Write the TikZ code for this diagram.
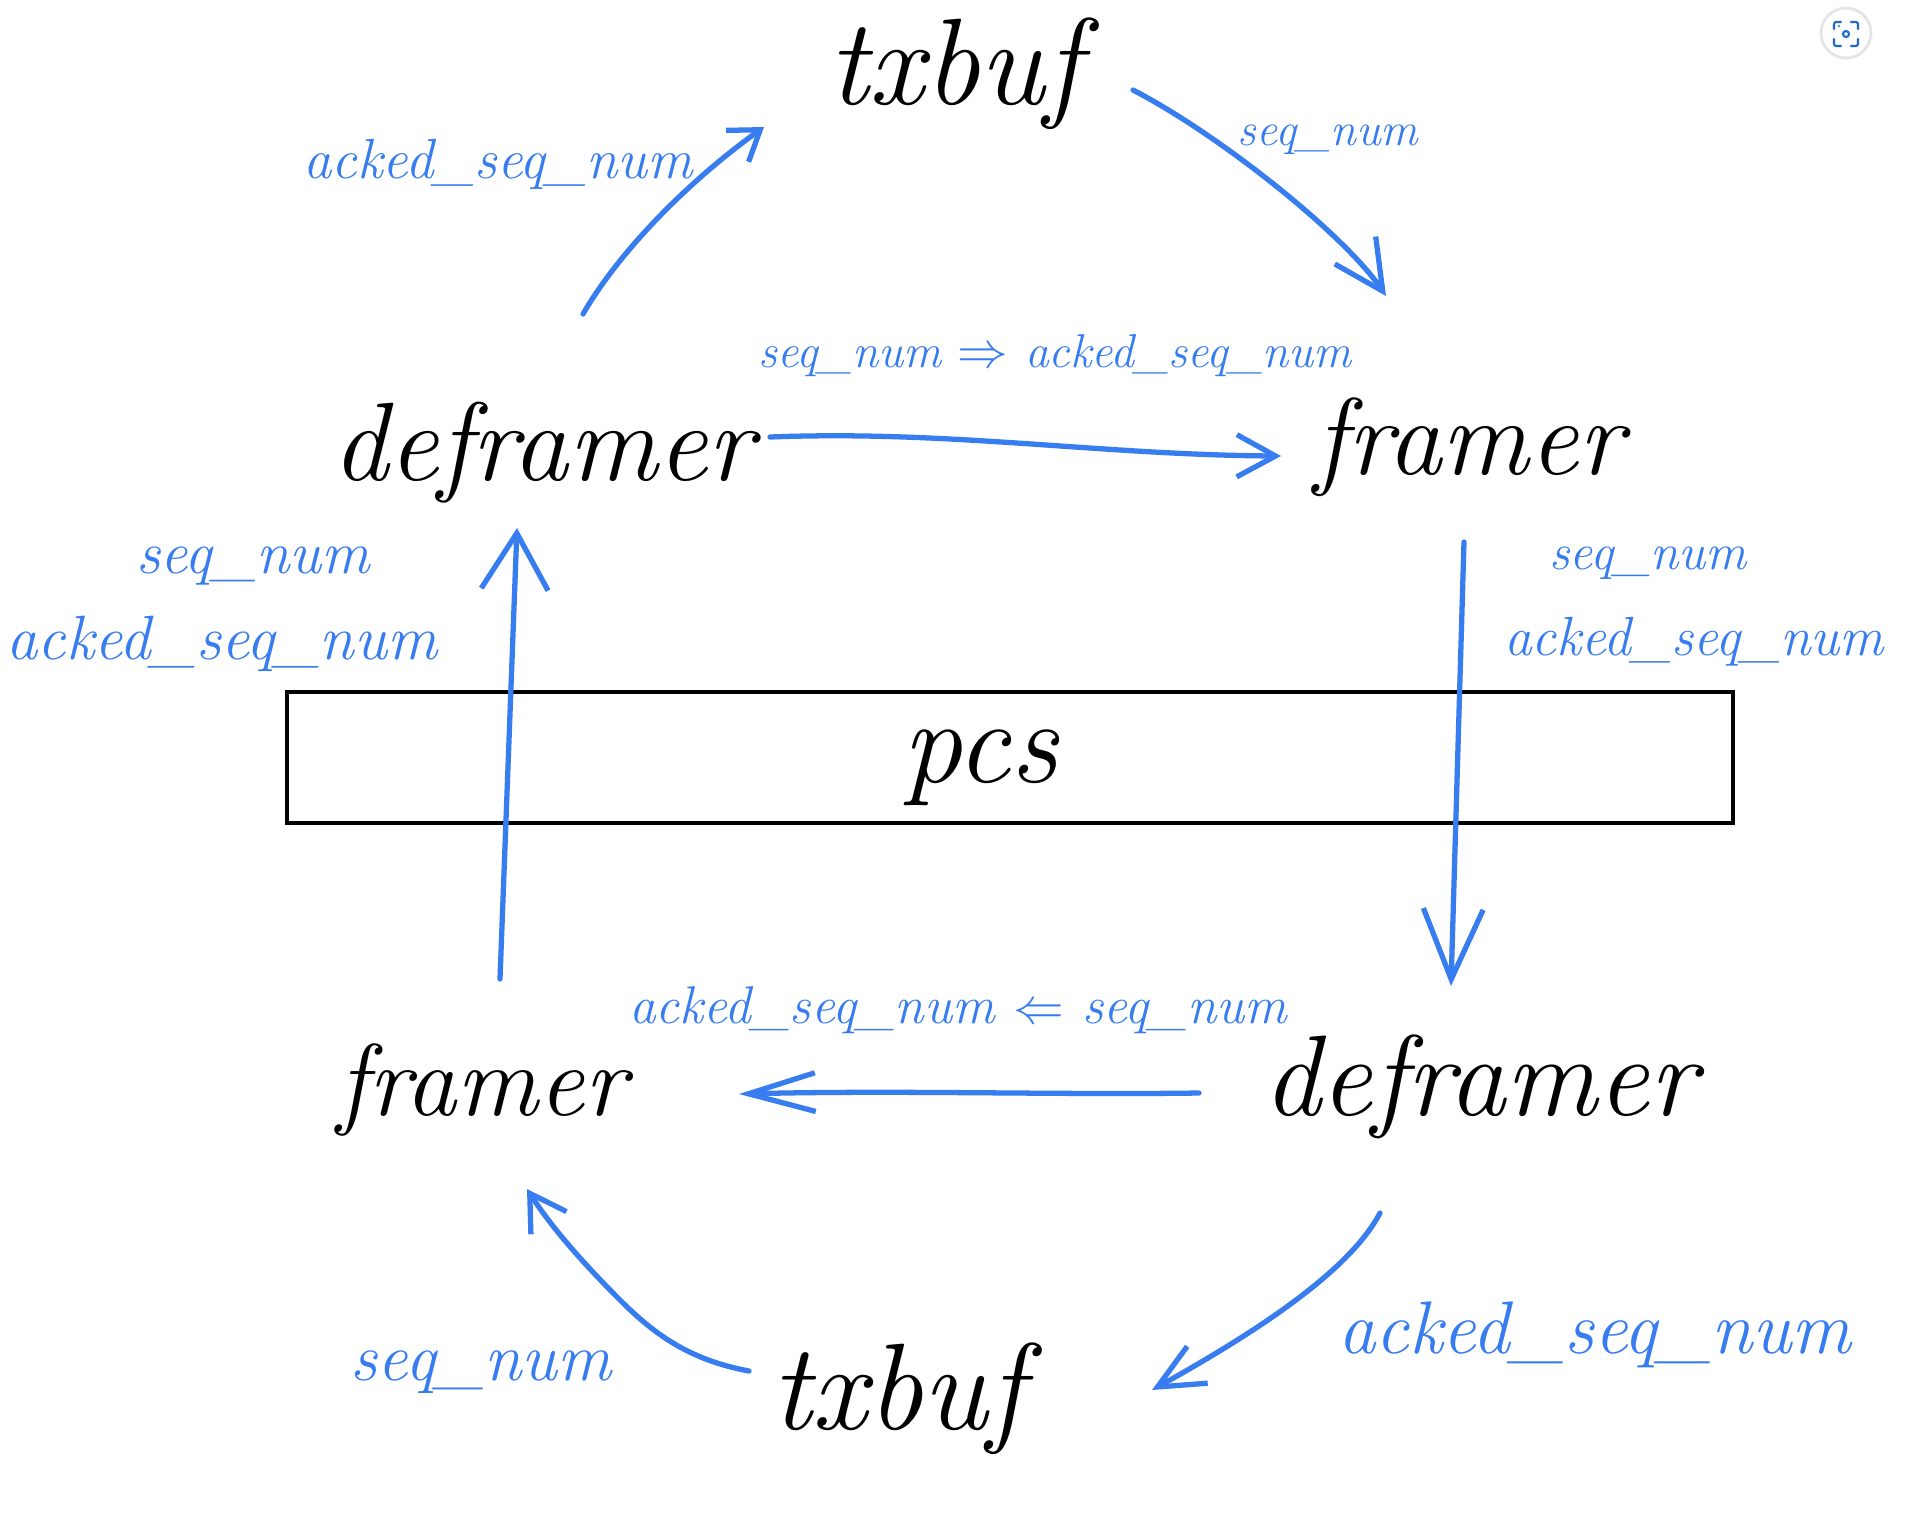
\documentclass[tikz,border=0pt]{standalone}
\usetikzlibrary{arrows.meta}
\definecolor{ink}{RGB}{56,125,240}
\definecolor{iconblue}{RGB}{30,105,200}
\begin{document}
\begin{tikzpicture}[x=0.01cm,y=-0.01cm,
  blk/.style={text=black, font=\fontsize{#1pt}{#1pt}\selectfont\itshape, inner sep=0pt, anchor=base},
  lbl/.style={text=ink, font=\fontsize{#1pt}{#1pt}\selectfont\itshape, inner sep=0pt, anchor=base},
  flow/.style={draw=ink, line width=1.5pt, line cap=round, line join=round},
  iconline/.style={draw=iconblue, line width=0.6pt, line cap=round, rounded corners=0.6pt}]
\useasboundingbox (0,0) rectangle (1932,1538);
\fill[white] (0,0) rectangle (1932,1538);

% black nodes
\node[blk=35] (txtop) at (955,104) {txbuf};
\node[blk=31.7] (defTL) at (543,480) {deframer};
\node[blk=31] (frTR) at (1469,474) {framer};
\node[draw, line width=1.1pt, minimum width=14.46cm, minimum height=1.31cm, inner sep=0pt] (pcsbox) at (1010,757.5) {};
\node[blk=34] (pcs) at (980,782) {pcs};
\node[blk=29] (frBL) at (482,1115) {framer};
\node[blk=32.6] (defBR) at (1480,1115) {deframer};
\node[blk=35] (txbot) at (898,1429) {txbuf};

% blue labels
\node[lbl=16.1] (l1) at (498,178) {acked\_seq\_num};
\node[lbl=13.3] (l2) at (1328,145) {seq\_num};
\node[lbl=13.5] (l3) at (1055,367) {seq\_num $\Rightarrow$ acked\_seq\_num};
\node[lbl=17.2] (l4) at (253,573) {seq\_num};
\node[lbl=17.8] (l5) at (222,659) {acked\_seq\_num};
\node[lbl=14.6] (l6) at (1648,569) {seq\_num};
\node[lbl=15.7] (l7) at (1694,655) {acked\_seq\_num};
\node[lbl=15.1] (l8) at (958,1023) {acked\_seq\_num $\Leftarrow$ seq\_num};
\node[lbl=21.2] (l9) at (1595,1353) {acked\_seq\_num};
\node[lbl=19.2] (l10) at (481,1380) {seq\_num};

% connector end points
\coordinate (a1s) at (583,314);  \coordinate (a1e) at (764,127);
\coordinate (a2s) at (1133,90);  \coordinate (a2e) at (1386,296);
\coordinate (a3s) at (770,437);  \coordinate (a3e) at (1281,456);
\coordinate (a4s) at (1464,542); \coordinate (a4e) at (1451,986);
\coordinate (a5s) at (1199,1093);\coordinate (a5e) at (739,1094);
\coordinate (a6s) at (1380,1213);\coordinate (a6e) at (1152,1390);
\coordinate (a7s) at (749,1371); \coordinate (a7e) at (527,1189);
\coordinate (a8s) at (500,979);  \coordinate (a8e) at (517,528);

% connectors
\draw[flow, -{Straight Barb[length=8pt,width=11pt]}] (a1s) .. controls (620,250) and (690,180) .. (a1e);
\draw[flow, -{Straight Barb[length=14pt,width=14pt]}] (a2s) .. controls (1220,135) and (1345,235) .. (a2e);
\draw[flow, -{Straight Barb[length=11pt,width=12pt]}] (a3s) .. controls (950,430) and (1100,455) .. (a3e);
\draw[flow, -{Straight Barb[length=20pt,width=17pt]}] (a4s) -- (a4e);
\draw[flow, -{Straight Barb[length=19pt,width=11pt]}] (a5s) .. controls (1050,1095) and (900,1090) .. (a5e);
\draw[flow, -{Straight Barb[length=13pt,width=12pt]}] (a6s) .. controls (1350,1270) and (1260,1330) .. (a6e);
\draw[flow, -{Straight Barb[length=10pt,width=12pt]}] (a7s) .. controls (690,1360) and (655,1335) .. (620,1300) .. controls (580,1260) and (550,1225) .. (a7e);
\draw[flow, -{Straight Barb[length=16pt,width=19pt]}] (a8s) -- (a8e);

% screenshot button
\node[circle, fill=white, draw=gray!20, line width=0.8pt, minimum size=0.5cm, inner sep=0pt] (icon) at (1846,33) {};
\draw[iconline] (1834,29) -- (1834,22) -- (1841,22);
\draw[iconline] (1851,22) -- (1858,22) -- (1858,29);
\draw[iconline] (1858,39) -- (1858,46) -- (1851,46);
\draw[iconline] (1841,46) -- (1834,46) -- (1834,39);
\draw[draw=iconblue, line width=0.6pt] (1846,34) circle (3);
\fill[iconblue] (1839,26) circle (1.2);
\end{tikzpicture}
\end{document}
